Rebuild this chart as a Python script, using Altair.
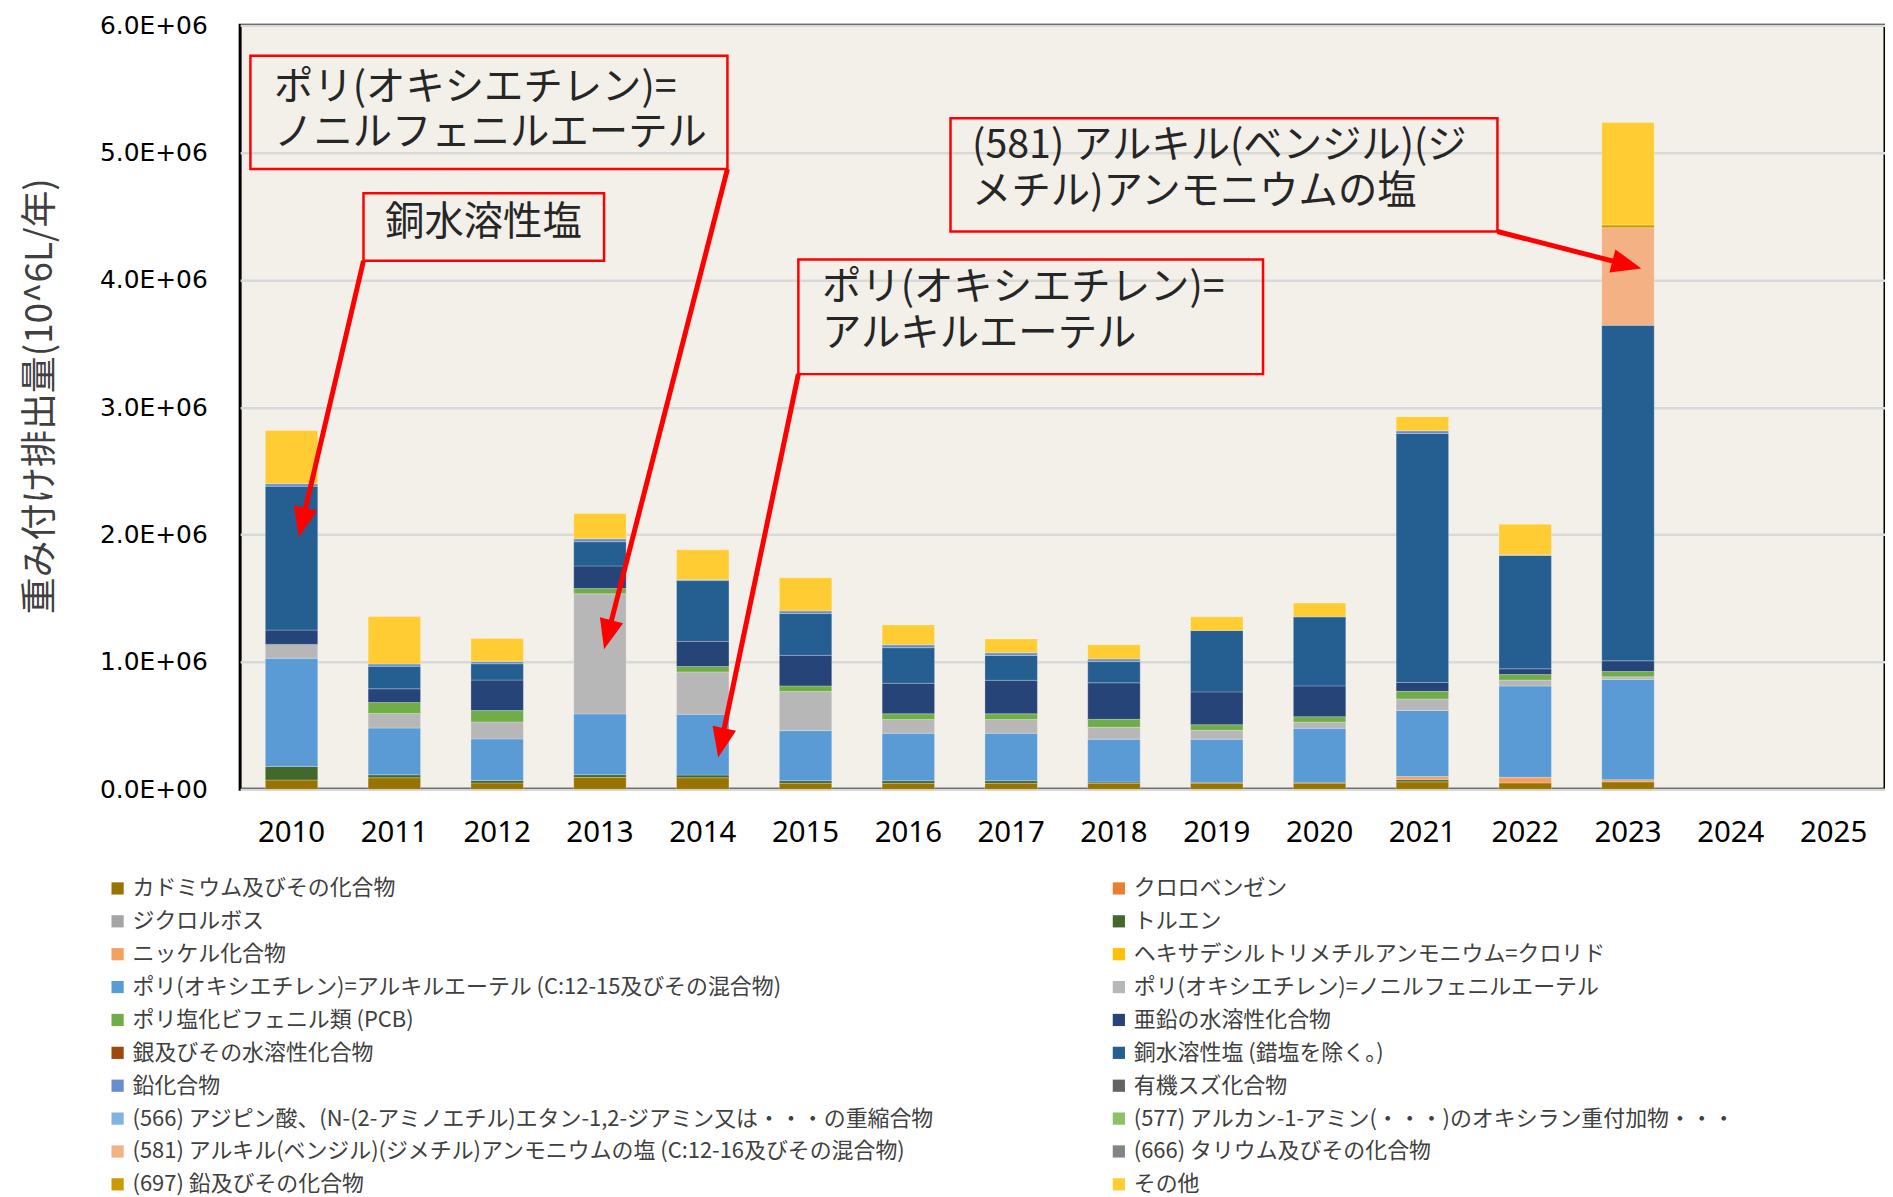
import math
import altair as alt
import pandas as pd

# ---------------- data ----------------
years = [str(y) for y in range(2010, 2026)]

series = [
    "カドミウム及びその化合物",
    "クロロベンゼン",
    "ジクロルボス",
    "トルエン",
    "ニッケル化合物",
    "ヘキサデシルトリメチルアンモニウム=クロリド",
    "ポリ(オキシエチレン)=アルキルエーテル (C:12-15及びその混合物)",
    "ポリ(オキシエチレン)=ノニルフェニルエーテル",
    "ポリ塩化ビフェニル類 (PCB)",
    "亜鉛の水溶性化合物",
    "銀及びその水溶性化合物",
    "銅水溶性塩 (錯塩を除く。)",
    "鉛化合物",
    "有機スズ化合物",
    "(566) アジピン酸、(N-(2-アミノエチル)エタン-1,2-ジアミン又は・・・の重縮合物",
    "(577) アルカン-1-アミン(・・・)のオキシラン重付加物・・・",
    "(581) アルキル(ベンジル)(ジメチル)アンモニウムの塩 (C:12-16及びその混合物)",
    "(666) タリウム及びその化合物",
    "(697) 鉛及びその化合物",
    "その他",
]

colors = [
    "#997300", "#ED7D31", "#A5A5A5", "#43682B", "#F4A060",
    "#FFC000", "#5B9BD5", "#B7B7B7", "#70AD47", "#264478",
    "#9E480E", "#255E91", "#698ED0", "#636363", "#7FB3E0",
    "#8CC168", "#F4B183", "#848484", "#CC9A00", "#FFCD33",
]

# values in units of 1.0E+06 (years 2010 ... 2025)
v_cd    = [0.073, 0.091, 0.050, 0.094, 0.091, 0.047, 0.047, 0.047, 0.047, 0.047, 0.047, 0.059, 0.050, 0.059, 0, 0]
v_clbz  = [0] * 16
v_ddvp  = [0] * 16
v_tol   = [0.107, 0.023, 0.020, 0.021, 0.021, 0.021, 0.021, 0.021, 0.010, 0.008, 0.008, 0.017, 0, 0, 0, 0]
v_ni    = [0, 0, 0, 0, 0, 0, 0, 0, 0, 0, 0, 0.024, 0.044, 0.017, 0, 0]
v_hexa  = [0] * 16
v_alk   = [0.849, 0.367, 0.326, 0.477, 0.477, 0.393, 0.372, 0.372, 0.336, 0.338, 0.424, 0.519, 0.717, 0.787, 0, 0]
v_non   = [0.109, 0.115, 0.133, 0.943, 0.333, 0.307, 0.109, 0.109, 0.094, 0.070, 0.049, 0.091, 0.047, 0.020, 0, 0]
v_pcb   = [0, 0.086, 0.089, 0.042, 0.042, 0.044, 0.044, 0.044, 0.063, 0.044, 0.042, 0.059, 0.043, 0.042, 0, 0]
v_zn    = [0.112, 0.107, 0.240, 0.177, 0.198, 0.240, 0.240, 0.263, 0.286, 0.258, 0.242, 0.070, 0.045, 0.084, 0, 0]
v_ag    = [0] * 16
v_cu    = [1.130, 0.177, 0.128, 0.190, 0.477, 0.328, 0.279, 0.195, 0.167, 0.482, 0.542, 1.955, 0.890, 2.634, 0, 0]
v_pb    = [0.020, 0.018, 0.018, 0.023, 0.008, 0.021, 0.023, 0.021, 0.021, 0, 0, 0.021, 0.005, 0, 0, 0]
v_sn    = [0] * 16
v_566   = [0] * 16
v_577   = [0] * 16
v_581   = [0, 0, 0, 0, 0, 0, 0, 0, 0, 0, 0, 0, 0, 0.767, 0, 0]
v_666   = [0] * 16
v_697   = [0, 0, 0, 0, 0, 0, 0, 0, 0, 0, 0, 0, 0, 0.021, 0, 0]
v_other = [0.417, 0.372, 0.180, 0.198, 0.234, 0.260, 0.156, 0.109, 0.112, 0.107, 0.109, 0.111, 0.240, 0.805, 0, 0]

values = [v_cd, v_clbz, v_ddvp, v_tol, v_ni, v_hexa, v_alk, v_non, v_pcb, v_zn,
          v_ag, v_cu, v_pb, v_sn, v_566, v_577, v_581, v_666, v_697, v_other]

y_ticks = [0, 1e6, 2e6, 3e6, 4e6, 5e6, 6e6]

# annotations (x in year units, y in data units; y of notes = first line)
box_x  = [2009.60, 2010.70, 2014.93, 2016.41]
box_x2 = [2014.24, 2013.04, 2019.45, 2021.73]
box_y  = [5.76e6, 4.68e6, 4.16e6, 5.27e6]
box_y2 = [4.87e6, 4.15e6, 3.26e6, 4.38e6]

note_x = [2009.83, 2010.91, 2015.16, 2016.62]
note_y = [5.51e6, 4.45e6, 3.935e6, 5.05e6]
note_t = ["ポリ(オキシエチレン)=\nノニルフェニルエーテル",
          "銅水溶性塩",
          "ポリ(オキシエチレン)=\nアルキルエーテル",
          "(581) アルキル(ベンジル)(ジ\nメチル)アンモニウムの塩"]

arr_x0 = [2014.24, 2010.70, 2014.93, 2021.73]
arr_y0 = [4.87e6, 4.15e6, 3.26e6, 4.38e6]
arr_x1 = [2013.04, 2010.07, 2014.15, 2023.13]
arr_y1 = [1.10e6, 1.98e6, 0.25e6, 4.09e6]

# ---------------- layout ----------------
W, H = 1651, 767
px_x = W / 16.0
px_y = H / 6e6

rows = []
for i, (name, vals) in enumerate(zip(series, values)):
    for y, v in zip(years, vals):
        if v > 0:
            rows.append({"year": y, "series": name, "idx": i, "value": v * 1e6})
df = pd.DataFrame(rows)

boxes = pd.DataFrame({"x": box_x, "x2": box_x2, "y": box_y, "y2": box_y2})
notes = pd.DataFrame({"x": note_x, "y": note_y, "t": note_t})

line_rows, head_rows = [], []
for x0, y0, x1, y1 in zip(arr_x0, arr_y0, arr_x1, arr_y1):
    dx = (x1 - x0) * px_x
    dy = -(y1 - y0) * px_y
    L = math.hypot(dx, dy)
    ang = math.degrees(math.atan2(dx, -dy)) % 360
    back = 16.0
    xe = x1 - (dx / L) * back / px_x
    ye = y1 + (dy / L) * back / px_y
    line_rows.append({"x": x0, "y": y0, "x2": xe, "y2": ye})
    head_rows.append({"x": x1, "y": y1, "ang": ang})
lines = pd.DataFrame(line_rows)
heads = pd.DataFrame(head_rows)

JP = "Noto Sans CJK JP"

label_expr = "datum.value == 0 ? '0.0E+00' : format(datum.value / 1000000, '.1f') + 'E+06'"

bars = alt.Chart(df).mark_bar(stroke="#ffffff", strokeWidth=0.5, strokeOpacity=0.5).encode(
    x=alt.X("year:O", sort=years,
            scale=alt.Scale(domain=years, paddingInner=0.49, paddingOuter=0.245),
            axis=alt.Axis(title=None, labelAngle=0, labelFont="Noto Sans", labelFontSize=29.5,
                          labelColor="#000000", labelPadding=29.5, ticks=False, domain=False,
                          grid=False)),
    y=alt.Y("value:Q", stack="zero",
            scale=alt.Scale(domain=[0, 6e6], nice=False, zero=True),
            axis=alt.Axis(values=y_ticks, labelExpr=label_expr, grid=True,
                          gridColor="#D9D9D9", gridWidth=2.5, ticks=False, domain=False,
                          labelFont="DejaVu Sans", labelFontSize=25, labelColor="#000000",
                          labelPadding=33, title="重み付け排出量(10^6L/年)", titleFont=JP,
                          titleFontSize=37, titleFontWeight="normal", titleColor="#404040",
                          titlePadding=40, titleY=372)),
    color=alt.Color("series:N", scale=alt.Scale(domain=series, range=colors),
                    legend=alt.Legend(orient="none", legendX=-134, legendY=855.5, columns=2,
                                      direction="horizontal", title=None, labelFont=JP,
                                      labelFontSize=22, labelColor="#404040",
                                      symbolType="square", symbolSize=150,
                                      symbolStrokeWidth=0, labelOffset=4, rowPadding=11,
                                      columnPadding=173, labelLimit=1200, padding=0)),
    order=alt.Order("idx:Q", sort="ascending"),
)

xq = alt.X("x:Q", scale=alt.Scale(domain=[2009.5, 2025.5], nice=False, zero=False), axis=None)
yq = alt.Y("y:Q", scale=alt.Scale(domain=[0, 6e6], nice=False, zero=True), axis=None)

box_layer = alt.Chart(boxes).mark_rect(fillOpacity=0, stroke="#FF0000", strokeWidth=2.5).encode(
    x=xq, x2="x2:Q", y=yq, y2="y2:Q")

text_layer = alt.Chart(notes).mark_text(align="left", baseline="middle", font=JP,
                                        fontSize=39.5, color="#262626", lineBreak="\n",
                                        lineHeight=46).encode(
    x=xq, y=yq, text="t:N")

line_layer = alt.Chart(lines).mark_rule(color="#FF0000", strokeWidth=5).encode(
    x=xq, x2="x2:Q", y=yq, y2="y2:Q")

head_layer = alt.Chart(heads).mark_point(
    shape="M0,0 L-0.8,2 L0.8,2 Z", filled=True, color="#FF0000", opacity=1, size=900
).encode(x=xq, y=yq, angle=alt.Angle("ang:Q", scale=None))

annot = alt.layer(box_layer, text_layer, line_layer, head_layer)

chart = alt.layer(bars, annot).resolve_scale(x="independent", y="independent").properties(
    width=W, height=H,
    autosize=alt.AutoSizeParams(type="none"),
    padding={"left": 233, "top": 15, "right": 0, "bottom": 412},
    background="#FFFFFF",
).configure_view(fill="#F3F0EA", stroke="#000000", strokeWidth=3)

chart.save("out.html", embed_options={"renderer": "svg", "actions": False})
